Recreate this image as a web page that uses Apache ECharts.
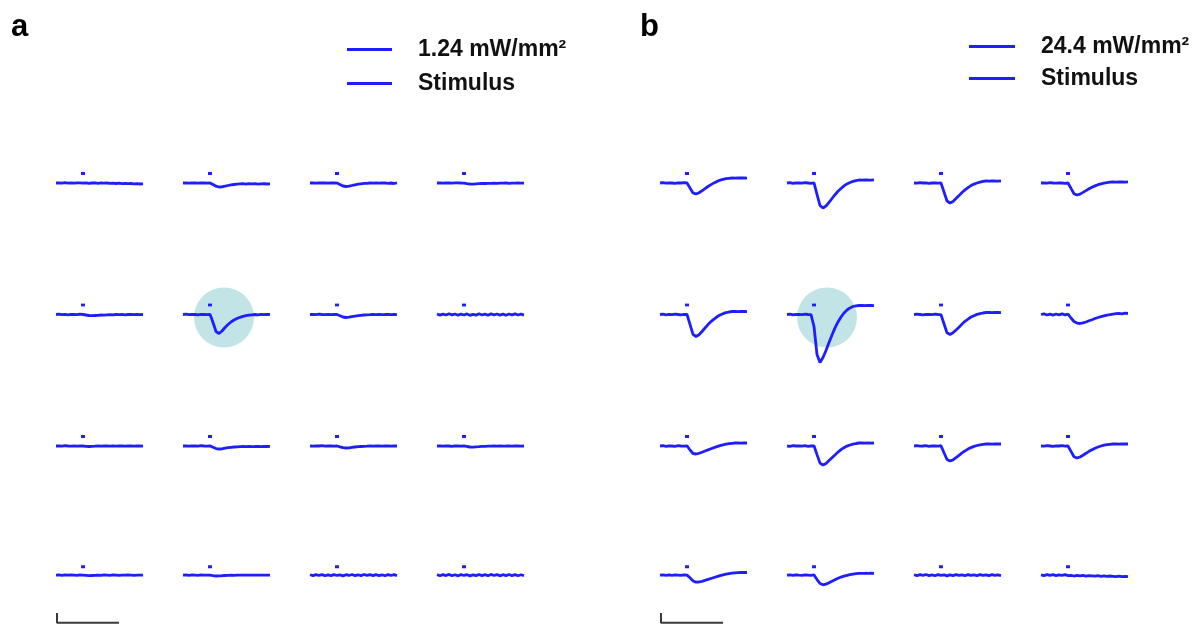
<!DOCTYPE html>
<html><head><meta charset="utf-8">
<script src="https://cdn.jsdelivr.net/npm/echarts@6/dist/echarts.min.js"></script>
<style>html,body{margin:0;padding:0;background:#fff}#c{width:1201px;height:628px}</style>
</head><body><div id="c"></div>
<script>
// shared time axis (ms-like units) for every trace
const time = [0,3,6,9,12,15,18,21,24,27,30,33,36,39,42,45,48,51,54,57,60,63,66,69,72,75,78,81,84,87];
const stimTime = [25, 29];
const stimLevel = [9.5, 9.5];
const scaleBarX = [1, 1, 63];
const scaleBarY = [-43, -54, -54];
const panelNames = ['1.24 mW/mm\u00B2', '24.4 mW/mm\u00B2'];
const panelLabels = ['a', 'b'];

// panel a (1.24 mW/mm2), rows 1-4, columns 1-4
const a11 = [0,0.2,-0.2,0.3,-0.1,0.2,-0.2,0.1,0.2,-0.1,0.2,-0.3,0,0.2,-0.3,0.1,-0.2,0,-0.4,-0.1,-0.5,-0.2,-0.6,-0.3,-0.7,-0.5,-0.8,-0.6,-1,-0.9];
const a12 = [0,0.2,-0.2,0.2,0,-0.2,0.2,0,-0.2,0.1,-1.5,-3.2,-4,-3.8,-3.2,-2.5,-1.9,-1.5,-1.2,-0.9,-0.7,-1.1,-0.6,-0.9,-0.7,-1.1,-0.8,-0.6,-1,-0.9];
const a13 = [0,0.2,-0.2,0.1,0,0.2,-0.2,0,0.2,-0.1,-1.5,-3,-3.5,-3.2,-2.5,-1.8,-1.2,-0.8,-0.4,-0.3,0,-0.2,0.1,-0.2,0,0.2,-0.3,0,-0.5,0.1];
const a14 = [0,0.2,-0.1,0.2,0,-0.2,0.1,0.2,0,-0.1,-0.6,-1,-1.1,-0.9,-0.7,-0.5,-0.5,-0.3,-0.4,-0.2,-0.3,-0.1,-0.2,0,-0.3,-0.1,-0.2,0,-0.2,-0.1];
const a21 = [0,0.3,-0.2,0.2,-0.3,0.2,0,-0.2,0.3,0,-0.5,-1,-1.2,-1,-0.8,-0.5,-0.6,-0.3,-0.2,-0.4,0,-0.2,0.1,-0.3,0,0.2,-0.2,0.1,-0.1,0];
const a22 = [0,0.3,-0.2,0.2,0,-0.3,0.2,0,-0.2,0.2,-8,-17,-19,-16.5,-13,-10,-7.5,-5.5,-4,-2.8,-1.8,-1.2,-0.7,-0.3,0,-0.4,0.2,-0.2,0,0.1];
const a23 = [0,0.2,-0.2,0.3,0,-0.2,0.2,-0.1,0.2,0,-1.2,-2.5,-3,-2.7,-2.1,-1.6,-1.1,-0.8,-0.5,-0.3,-0.2,0,-0.2,0.1,-0.1,0,0.2,-0.1,0,-0.2];
const a24 = [0.5,-0.6,0.4,-0.5,0.7,-0.4,0.5,-0.7,0.3,-0.5,0.6,-0.8,0.2,-0.6,0.7,-0.5,0.4,-0.7,0.6,-0.3,0.5,-0.6,0.4,-0.7,0.5,-0.4,0.6,-0.5,0.3,-0.6];
const a31 = [0,0.2,-0.2,0.3,0,-0.2,0.2,-0.1,0.2,0,-0.3,-0.5,-0.3,-0.2,0.1,-0.2,0,0.2,-0.1,0.1,-0.2,0,0.2,-0.1,0.1,0,-0.2,0.1,0,-0.1];
const a32 = [0,0.2,-0.2,0.2,0,-0.2,0.3,0,-0.2,0.1,-1.2,-2.6,-3,-2.8,-2.2,-1.7,-1.3,-1,-0.8,-0.6,-0.5,-0.7,-0.4,-0.6,-0.5,-0.3,-0.6,-0.4,-0.5,-0.4];
const a33 = [0,-0.2,0.2,0,0.3,-0.2,0,0.2,-0.2,0,-0.9,-1.7,-2,-1.8,-1.4,-1,-0.7,-0.5,-0.3,-0.2,0,-0.2,0.1,0,-0.1,0.2,0,-0.2,0.1,0];
const a34 = [0,0.2,-0.2,0.2,0,-0.3,0.2,0,-0.2,0.2,-0.5,-1,-1.1,-0.9,-0.7,-0.4,-0.3,-0.1,-0.2,0,-0.1,0.1,-0.1,0,0.2,-0.1,0,0.1,-0.2,0];
const a41 = [0,0.2,-0.2,0.2,-0.1,0.2,0,-0.2,0.2,0,-0.3,-0.6,-0.4,-0.2,0,-0.3,0.2,0,-0.2,0.2,0,-0.2,0.1,-0.1,0.2,0,-0.2,0.1,0,-0.1];
const a42 = [0,0.2,-0.2,0.2,0,-0.2,0.2,0,-0.1,0.1,-0.6,-1,-0.9,-0.7,-0.4,-0.3,-0.1,-0.2,0,-0.1,0.1,-0.1,0,0.1,-0.1,0,0.1,-0.1,0,0];
const a43 = [0.4,-0.6,0.6,-0.4,0.5,-0.7,0.3,-0.5,0.6,-0.4,0.3,-0.8,0.5,-0.4,0.7,-0.5,0.4,-0.6,0.7,-0.3,0.5,-0.6,0.6,-0.5,0.4,-0.7,0.5,-0.4,0.6,-0.5];
const a44 = [0.5,-0.7,0.5,-0.5,0.8,-0.6,0.4,-0.8,0.6,-0.4,0.5,-0.9,0.3,-0.6,0.8,-0.6,0.5,-0.7,0.8,-0.4,0.6,-0.8,0.5,-0.6,0.7,-0.5,0.6,-0.7,0.4,-0.6];

// panel b (24.4 mW/mm2)
const b11 = [0,0.3,-0.2,0.2,0,-0.3,0.2,0,0.3,0,-5,-9.9,-11,-9.7,-7.8,-5.7,-3.5,-1.6,0.1,1.6,2.8,3.6,4.3,4.7,5,4.8,5.2,5,5.1,4.9];
const b12 = [0,0.3,-0.3,0.2,0,-0.2,0.3,0,-0.3,0.2,-11.3,-22.5,-25,-23,-19.4,-15.5,-11.7,-8.3,-5.5,-2.9,-0.9,0.5,1.6,2.4,3,2.8,3.2,3,2.9,3.1];
const b13 = [0,-0.2,0.3,0,0.2,-0.3,0,0.2,-0.2,0,-9,-18,-20,-18.4,-15.6,-12.6,-9.5,-6.9,-4.6,-2.6,-1.1,0,0.9,1.6,2,1.8,2.2,2,1.9,2.1];
const b14 = [0,0.2,-0.2,0.3,0,-0.2,0.2,0,-0.3,0,-5.4,-10.8,-12,-11.1,-9.4,-7.6,-5.8,-4.2,-2.9,-1.7,-0.8,-0.2,0.4,0.8,1,0.8,1.1,1,0.9,1.1];
const b21 = [0,0.4,-0.3,0.2,-0.2,0.3,0,-0.3,0.2,0,-9.9,-19.8,-22,-20.2,-17,-13.5,-10.1,-7.1,-4.6,-2.3,-0.5,0.8,1.8,2.5,3,3.2,2.8,3.1,3,2.9];
const b22 = [0,0.3,-0.3,0.2,0,-0.2,0.3,0,-0.2,-12,-40,-48,-43,-36,-28,-20.5,-13.4,-7.4,-2.5,1.5,4.5,6.6,8,8.7,9,9.2,8.8,9,9.1,8.9];
const b23 = [0,0.3,0,-0.3,0.2,0,-0.2,0.3,0,-0.2,-9.2,-18.2,-20,-18.3,-15.5,-12.7,-9.6,-6.8,-4.7,-2.5,-1.2,0.1,0.9,1.5,2,2.2,1.8,2,2.1,1.9];
const b24 = [0,0.6,-0.5,0.4,-0.6,0.5,-0.3,0.6,-0.4,0.3,-3.5,-7,-8.6,-9,-8.4,-7.5,-6.3,-5.2,-4,-3,-2.2,-1.4,-0.7,-0.2,0.4,0.8,1.2,0.7,1.3,1];
const b31 = [0,0.3,-0.3,0.2,0,-0.3,0.3,0,-0.2,0.2,-4,-7.5,-8,-7.3,-6.2,-5,-3.9,-2.7,-1.6,-0.6,0.4,1.2,1.8,2.3,2.7,3,3.2,2.9,3.1,3];
const b32 = [0,-0.3,0.3,0,0.2,-0.2,0.3,-0.3,0,0.2,-8.6,-17.1,-19,-17.4,-14.6,-11.7,-8.9,-6.1,-3.7,-1.7,-0.1,1,1.9,2.5,3,3.2,2.9,3.1,2.8,3];
const b33 = [0,0.3,-0.2,0,0.3,-0.3,0.2,0,-0.2,0.3,-6.8,-13.5,-15,-13.9,-11.6,-9.3,-6.9,-4.9,-3.1,-1.6,-0.4,0.5,1.2,1.7,2,2.1,1.9,2.2,2,2];
const b34 = [0,-0.2,0.3,0,-0.3,0.2,0,0.3,-0.2,0,-5.4,-10.8,-12,-11,-9.2,-7.3,-5.3,-3.7,-2.2,-1,0,0.8,1.3,1.7,2,2.1,1.9,2,2.1,2];
const b41 = [0,0.3,-0.3,0.2,-0.2,0.3,0,-0.3,0.2,0,-3,-6.5,-8,-7.8,-7,-6,-4.9,-3.8,-2.7,-1.6,-0.6,0.3,1.1,1.7,2.2,2.6,2.9,3,3.1,3];
const b42 = [0,0.2,-0.3,0.3,0,-0.2,0.2,0,-0.3,0.2,-5,-9.5,-11,-10.2,-8.6,-6.9,-5.2,-3.6,-2.2,-1.1,-0.2,0.6,1.2,1.6,2,1.9,2.1,2,2.2,2];
const b43 = [0.4,-0.6,0.5,-0.3,0.7,-0.5,0.3,-0.7,0.5,-0.2,0.4,-0.8,0.2,-0.6,0.5,-0.4,0.3,-0.7,0.6,-0.3,0.2,-0.6,0.5,-0.4,0.3,-0.5,0.6,-0.3,0.4,-0.5];
const b44 = [0.3,-0.5,0.6,-0.3,0.5,-0.6,0.2,-0.4,0.5,-0.6,-0.2,-1,-0.4,-0.9,-0.2,-1.1,-0.5,-0.8,-1.2,-0.6,-1.3,-0.9,-1.5,-1,-1.4,-1.8,-1.1,-1.6,-1.3,-1.7];

const panelTraces = [
  [[a11,a12,a13,a14],[a21,a22,a23,a24],[a31,a32,a33,a34],[a41,a42,a43,a44]],
  [[b11,b12,b13,b14],[b21,b22,b23,b24],[b31,b32,b33,b34],[b41,b42,b43,b44]]
];

// layout (pixels)
const panelLeft = [56, 660];
const colStep = 127, traceWidth = 87;
const rowBase0 = 183, rowStep = 131.5;
const yMin = -60, yMax = 20;
const traceColor = '#1e1eff';
const circleColor = '#b3dde0';

const grids = [], xAxes = [], yAxes = [], series = [];
let gi = 0;
for (let p = 0; p < 2; p++) {
  for (let r = 0; r < 4; r++) {
    for (let c = 0; c < 4; c++) {
      const base = rowBase0 + r * rowStep;
      grids.push({left: panelLeft[p] + c * colStep, width: traceWidth, top: base - yMax, height: yMax - yMin, containLabel: false});
      xAxes.push({gridIndex: gi, type: 'value', min: 0, max: traceWidth, show: false});
      yAxes.push({gridIndex: gi, type: 'value', min: yMin, max: yMax, show: false});
      if (r === 1 && c === 1) {
        series.push({type: 'scatter', xAxisIndex: gi, yAxisIndex: gi, z: 1, symbolSize: 60, silent: true,
          itemStyle: {color: circleColor}, data: [[p === 0 ? 41 : 40, -3]]});
      }
      const vals = panelTraces[p][r][c];
      series.push({type: 'line', name: panelNames[p], xAxisIndex: gi, yAxisIndex: gi, z: 3,
        symbol: 'none', clip: false, lineStyle: {color: traceColor, width: 2.8}, itemStyle: {color: traceColor},
        data: time.map((t, k) => [t, vals[k]])});
      series.push({type: 'line', name: 'Stimulus', xAxisIndex: gi, yAxisIndex: gi, z: 3,
        symbol: 'none', clip: false, lineStyle: {color: traceColor, width: 2.8}, itemStyle: {color: traceColor},
        data: stimTime.map((t, k) => [t, stimLevel[k]])});
      if (r === 3 && c === 0) {
        series.push({type: 'line', xAxisIndex: gi, yAxisIndex: gi, z: 3, symbol: 'none', clip: false,
          lineStyle: {color: '#3a3a3a', width: 2}, data: scaleBarX.map((x, k) => [x, scaleBarY[k]])});
      }
      gi++;
    }
  }
}

const legendText = {fontSize: 23, fontWeight: 'bold', color: '#111', lineHeight: 23, fontFamily: '"Liberation Sans", Arial, sans-serif', padding: [0, 0, 0, 21]};
const option = {
  animation: false,
  backgroundColor: '#fff',
  title: [
    {text: panelLabels[0], left: 6, top: 7, textStyle: {fontSize: 31, fontWeight: 'bold', color: '#000', fontFamily: '"Liberation Sans", Arial, sans-serif'}},
    {text: panelLabels[1], left: 635, top: 7, textStyle: {fontSize: 31, fontWeight: 'bold', color: '#000', fontFamily: '"Liberation Sans", Arial, sans-serif'}}
  ],
  legend: [
    {orient: 'vertical', left: 347, top: 38, padding: 0, itemWidth: 45, itemHeight: 3, itemGap: 11, icon: 'rect', selectedMode: false,
      data: [panelNames[0], 'Stimulus'], textStyle: legendText},
    {orient: 'vertical', left: 969, top: 35, padding: 0, itemWidth: 46, itemHeight: 3, itemGap: 9, icon: 'rect', selectedMode: false,
      data: [panelNames[1], 'Stimulus'], textStyle: legendText}
  ],
  grid: grids, xAxis: xAxes, yAxis: yAxes, series: series
};
const chart = echarts.init(document.getElementById('c'), null, {renderer: 'canvas'});
chart.setOption(option);
</script></body></html>
